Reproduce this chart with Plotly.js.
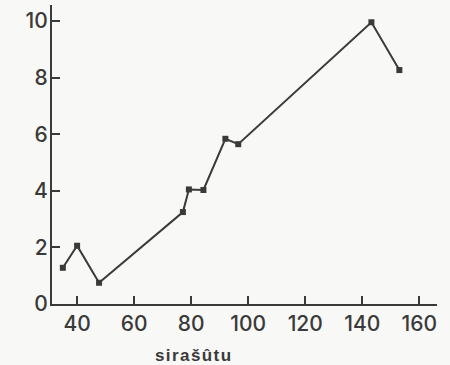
<!DOCTYPE html>
<html>
<head>
<meta charset="utf-8">
<script src="https://cdn.plot.ly/plotly-3.0.1.min.js"></script>
<style>html,body{margin:0;padding:0;background:#f8f8f6;}</style>
</head>
<body>
<div id="chart" style="width:450px;height:365px;"></div>
<script>
var xValues = [35, 40, 47.7, 77.1, 79.2, 84.3, 92, 96.5, 143.2, 153];
var yValues = [1.28, 2.06, 0.75, 3.25, 4.05, 4.03, 5.84, 5.65, 9.96, 8.27];
var xTickVals = [40, 60, 80, 100, 120, 140, 160];
var yTickVals = [0, 2, 4, 6, 8, 10];
var xLabel = "sirašûtu";

var ink = "#3a3a3a";
var tickFont = {size: 21, color: ink, family: "Inter, Liberation Sans, Arial, sans-serif", weight: 500};
var trace = {
  x: xValues, y: yValues, type: "scatter", mode: "lines+markers",
  line: {color: ink, width: 2},
  marker: {color: ink, size: 6, symbol: "square"},
  hoverinfo: "none"
};
var layout = {
  width: 450, height: 365,
  margin: {l: 52, r: 13, t: 5, b: 61},
  paper_bgcolor: "#f8f8f6", plot_bgcolor: "#f8f8f6",
  showlegend: false,
  font: {family: "Liberation Sans, Arial, sans-serif", color: ink},
  xaxis: {
    range: [31.2, 166.2], tickvals: xTickVals, ticktext: xTickVals.map(String),
    showgrid: false, zeroline: false, showline: true, linecolor: ink, linewidth: 2,
    ticks: "inside", ticklen: 8, tickwidth: 2, tickcolor: ink,
    tickfont: tickFont
  },
  yaxis: {
    range: [0, 10.57], tickvals: yTickVals, ticktext: yTickVals.map(String),
    showgrid: false, zeroline: false, showline: true, linecolor: ink, linewidth: 2,
    ticks: "inside", ticklen: 8, tickwidth: 2, tickcolor: ink,
    ticklabelstandoff: -2,
    tickfont: tickFont
  },
  annotations: [{
    text: "<b>" + xLabel.split("").join("\u200A") + "</b>",
    xref: "paper", yref: "paper", x: (193 - 52) / 385, y: 0,
    yshift: -51, xanchor: "center", yanchor: "middle", showarrow: false,
    font: {size: 17, color: ink, family: "Liberation Sans, Arial, sans-serif"}
  }]
};
Plotly.newPlot("chart", [trace], layout, {displayModeBar: false, staticPlot: true});
</script>
</body>
</html>
